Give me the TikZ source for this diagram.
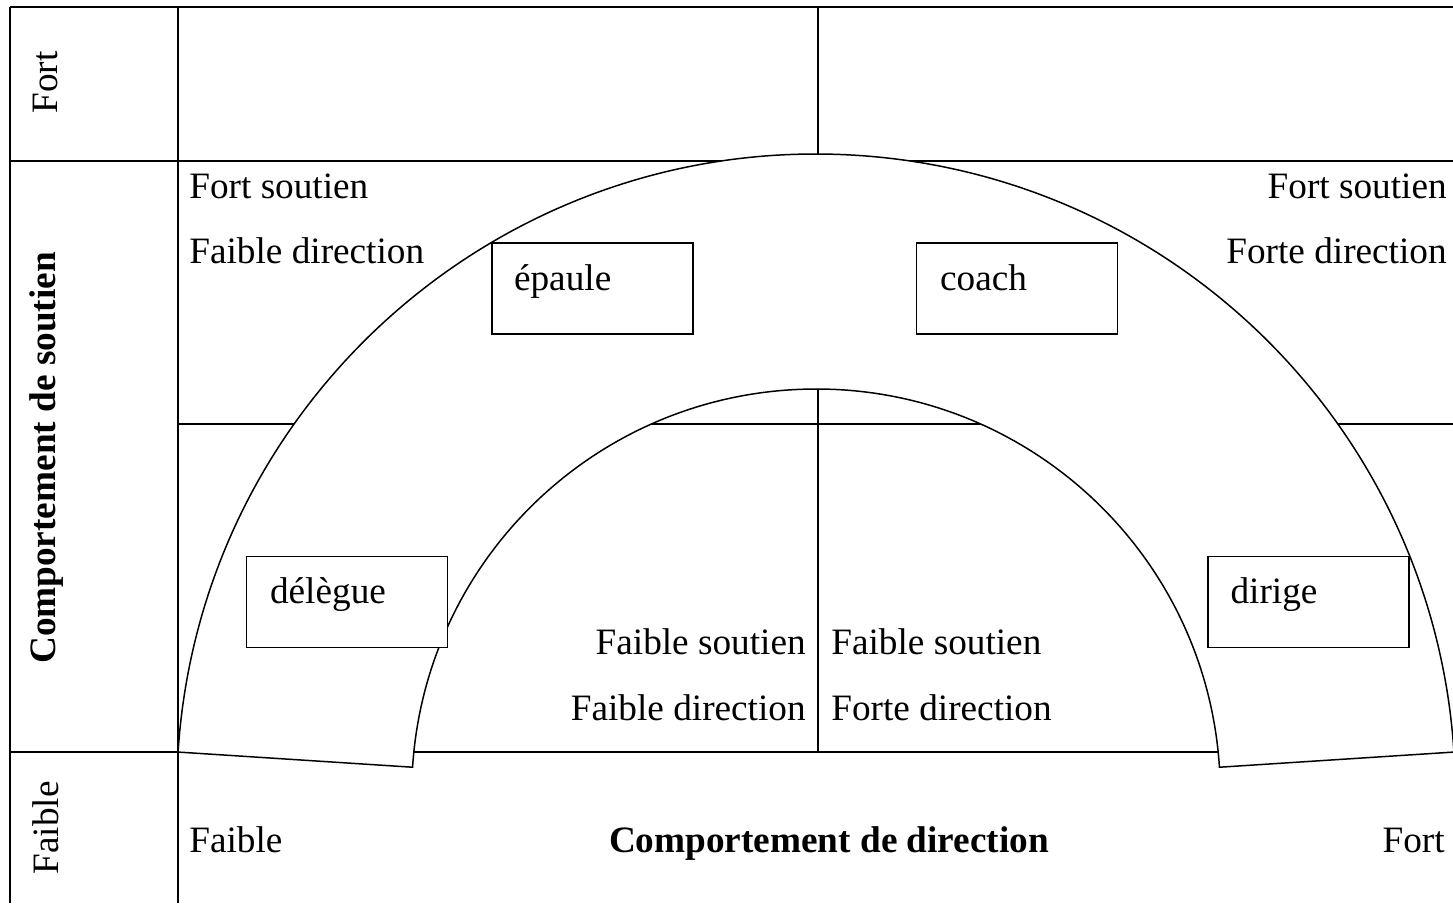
\documentclass[tikz,border=0pt]{standalone}
\usepackage{fontspec}
\setmainfont{Liberation Serif}
\usepackage{tikz}
\usetikzlibrary{positioning}

\begin{document}
\begin{tikzpicture}[
  x=0.02cm, y=-0.02cm,
  every node/.style={font=\fontsize{21.2}{25}\selectfont, inner sep=0pt},
  grid/.style={draw, line width=1.1pt},
  blockarc/.style={draw, fill=white, line width=0.85pt},
  stylebox/.style={draw, fill=white, line width=0.9pt, minimum width=4.02cm, minimum height=1.82cm},
  axis/.style={font=\fontsize{21.2}{25}\selectfont\bfseries}
]
\useasboundingbox (0,0) rectangle (1453,903);

% Grid of the table
\draw[grid] (10,7) -- (1453,7);
\draw[grid] (10,161) -- (1453,161);
\draw[grid] (178,424) -- (1453,424);
\draw[grid] (10,752) -- (1453,752);
\draw[grid] (10,7) -- (10,903);
\draw[grid] (178,7) -- (178,903);
\draw[grid] (818,7) -- (818,752);

% Half ring
\coordinate (ctr) at (816,793.3);
\draw[blockarc] ([shift={(-176.3:639.3)}]ctr) arc[start angle=-176.3, end angle=-3.7, radius=639.3]
  -- ([shift={(-3.7:404.3)}]ctr) arc[start angle=-3.7, end angle=-176.3, radius=404.3] -- cycle;

% Leadership styles
\node[stylebox] (epaule) at (592.5,288.5) {};
\node[stylebox] (coach) at (1017,288.5) {};
\node[stylebox] (delegue) at (347,602) {};
\node[stylebox] (dirige) at (1308.5,602) {};
\node[anchor=base west] (epauletxt) at ([shift={(22.5,1.5)}]epaule.west) {épaule};
\node[anchor=base west] (coachtxt) at ([shift={(24,1.5)}]coach.west) {coach};
\node[anchor=base west] (deleguetxt) at ([shift={(24,1)}]delegue.west) {délègue};
\node[anchor=base west] (dirigetxt) at ([shift={(23,1)}]dirige.west) {dirige};

% Quadrant labels
\node[anchor=base west] (fsL) at (189,198) {Fort soutien};
\node[anchor=base west] (fdL) at (189,263) {Faible direction};
\node[anchor=base east] (fsR) at (1447,198) {Fort soutien};
\node[anchor=base east] (fdR) at (1447,263) {Forte direction};
\node[anchor=base east] (bsL) at (806,654) {Faible soutien};
\node[anchor=base east] (bdL) at (806,720) {Faible direction};
\node[anchor=base west] (bsR) at (831,654) {Faible soutien};
\node[anchor=base west] (bdR) at (831,720) {Forte direction};

% Axes
\node[anchor=base west] (xlow) at (189,852) {Faible};
\node[axis, anchor=base] (xtitle) at (829,852) {Comportement de direction};
\node[anchor=base east] (xhigh) at (1445,852) {Fort};
\node[rotate=90, anchor=base] (yhigh) at (57,82.5) {Fort};
\node[axis, rotate=90, anchor=base] (ytitle) at (55,458) {Comportement de soutien};
\node[rotate=90, anchor=base] (ylow) at (58,828) {Faible};
\end{tikzpicture}
\end{document}
